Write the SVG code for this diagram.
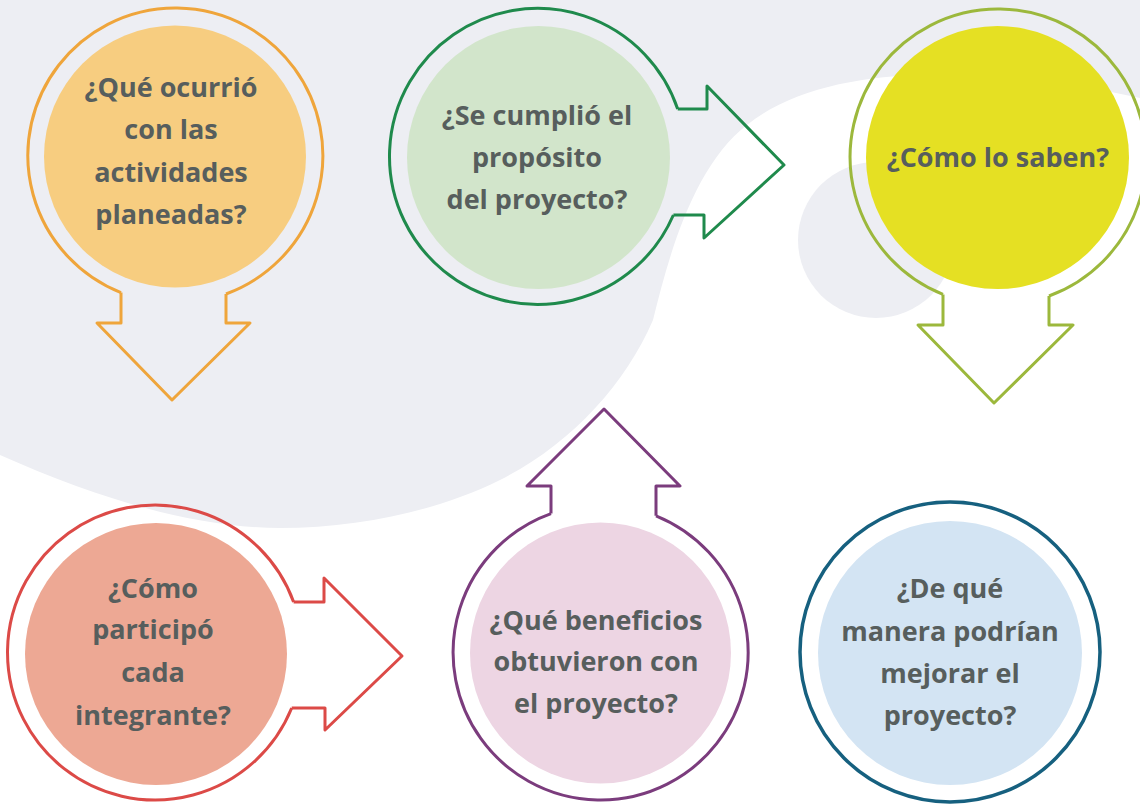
<svg xmlns="http://www.w3.org/2000/svg" width="1140" height="804" viewBox="0 0 1140 804">
<style>
.ring{fill:none;stroke-width:3;stroke-linejoin:round}
.arr{fill:none;stroke-width:3;stroke-linejoin:round}
.t{font-family:"Open Sans","Liberation Sans",sans-serif;font-weight:700;font-size:27px;fill:#575E5D;text-anchor:middle}
</style>
<rect x="0" y="0" width="1140" height="804" fill="#EDEEF3"/>
<path d="M0,455 C90,495 190,528 280,528 C360,528 440,510 500,480 C570,445 625,385 653,320 C670,250 695,165 747,125 C790,90 860,75 930,75 C1010,75 1080,85 1140,98 L1140,804 L0,804 Z" fill="#FFFFFF"/>
<circle cx="876" cy="240" r="78" fill="#EDEEF3"/>

<g id="n1">
<circle cx="175" cy="156.5" r="131" fill="#F7CD80"/>
<path class="ring" stroke="#EFA53B" d="M226,294 A147.5 147.5 0 1 0 121,292.6"/>
<text class="t"><tspan x="171" y="97">¿Qué ocurrió</tspan><tspan x="171" y="139">con las</tspan><tspan x="171" y="182">actividades</tspan><tspan x="171" y="224">planeadas?</tspan></text>
</g>
<g id="n2">
<circle cx="538.5" cy="157.5" r="131.5" fill="#D2E5CB"/>
<path class="ring" stroke="#1F8A4C" d="M673.4,215 A148 148 0 1 1 677.7,109"/>
<text class="t"><tspan x="537" y="125">¿Se cumplió el</tspan><tspan x="537" y="167">propósito</tspan><tspan x="537" y="209">del proyecto?</tspan></text>
</g>
<g id="n3">
<circle cx="997.5" cy="157.5" r="131.5" fill="#E5E023"/>
<path class="ring" stroke="#9CB83C" d="M1049,296 A148 148 0 1 0 943,294.4"/>
<text class="t"><tspan x="998" y="167">¿Cómo lo saben?</tspan></text>
</g>
<g id="n4">
<circle cx="156" cy="654" r="131" fill="#EDA894"/>
<path class="ring" stroke="#DC4A47" d="M291.7,708 A147.5 147.5 0 1 1 293.6,602"/>
<text class="t"><tspan x="153" y="598">¿Cómo</tspan><tspan x="153" y="639">participó</tspan><tspan x="153" y="682">cada</tspan><tspan x="153" y="725">integrante?</tspan></text>
</g>
<g id="n5">
<circle cx="600.5" cy="653" r="130.5" fill="#EDD5E3"/>
<path class="ring" stroke="#7B3C7D" d="M656,515.8 A147.5 147.5 0 1 1 551,513.6"/>
<text class="t"><tspan x="596" y="630">¿Qué beneficios</tspan><tspan x="596" y="671">obtuvieron con</tspan><tspan x="596" y="713">el proyecto?</tspan></text>
</g>
<g id="n6">
<circle cx="950" cy="653" r="132" fill="#D3E4F3"/>
<circle cx="950" cy="652" r="150" fill="none" stroke="#16607F" stroke-width="3.5"/>
<text class="t"><tspan x="950" y="598">¿De qué</tspan><tspan x="950" y="641">manera podrían</tspan><tspan x="950" y="683">mejorar el</tspan><tspan x="950" y="725">proyecto?</tspan></text>
</g>

<g id="connectors">
<path class="arr" stroke="#EFA53B" d="M121,292.6 L121,323 L97,323 L172,400 L250,323 L226,323 L226,294"/>
<path class="arr" stroke="#1F8A4C" d="M677.7,109 L707,109 L707,86 L784,165 L704,238 L704,215 L673.4,215"/>
<path class="arr" stroke="#9CB83C" d="M943,294.4 L943,325 L918,325 L994,403 L1073,325 L1049,325 L1049,296"/>
<path class="arr" stroke="#DC4A47" d="M293.6,602 L324,602 L324,578 L402,656 L325,730 L325,708 L291.7,708"/>
<path class="arr" stroke="#7B3C7D" d="M551,513.6 L551,486 L527,486 L604,409 L680,486 L656,486 L656,515.8"/>
</g>
</svg>
